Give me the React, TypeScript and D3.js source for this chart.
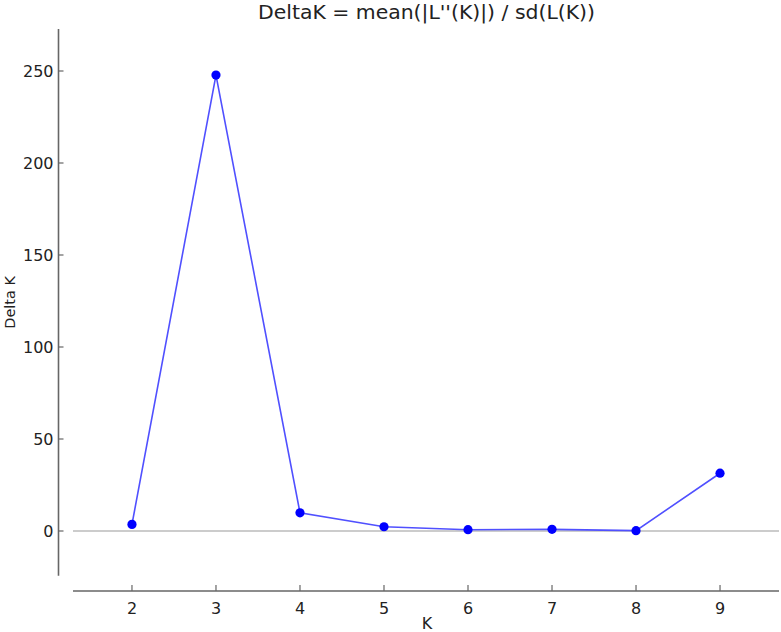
import React from "react";
import * as d3 from "d3";

const kValues = [2, 3, 4, 5, 6, 7, 8, 9];
const deltaK = [3.6, 247.8, 9.9, 2.3, 0.7, 0.9, 0.2, 31.4];
const yTicks = [0, 50, 100, 150, 200, 250];
const xTicks = [2, 3, 4, 5, 6, 7, 8, 9];
const title = "DeltaK = mean(|L''(K)|) / sd(L(K))";
const xLabel = "K";
const yLabel = "Delta K";

export default function App() {
  const W = 781, H = 632;
  const x = d3.scaleLinear().domain([1.298, 9.702]).range([73, 779]);
  const y = d3.scaleLinear().domain([0, 250]).range([531, 71]);
  const yAxisX = 58.5;
  const yTop = y(272.8), yBot = y(-24.3);
  const xAxisY = 591;
  const line = d3.line<number>().x((_, i) => x(kValues[i])).y((d) => y(d));
  const font = "DejaVu Sans, sans-serif";
  const axisColor = "#666";
  return (
    <svg width={W} height={H} style={{ position: "absolute", left: 0, top: 0, background: "#fff" }}>
      <text x={426.5} y={18.5} textAnchor="middle" fontFamily={font} fontSize={19} textLength={337} lengthAdjust="spacingAndGlyphs" fill="#222">{title}</text>
      {/* y axis */}
      <line x1={yAxisX} x2={yAxisX} y1={yTop} y2={yBot} stroke={axisColor} strokeWidth={1.6} />
      {yTicks.map((t) => (
        <g key={t}>
          <line x1={yAxisX} x2={yAxisX + 5} y1={y(t)} y2={y(t)} stroke={axisColor} strokeWidth={1.2} />
          <text x={yAxisX - 5} y={y(t)} dy="0.35em" textAnchor="end" fontFamily={font} fontSize={16} fill="#222">{t}</text>
        </g>
      ))}
      <text transform={`translate(15,${(yTop + yBot) / 2}) rotate(-90)`} textAnchor="middle" fontFamily={font} fontSize={14.5} fill="#222">{yLabel}</text>
      {/* zero line */}
      <line x1={x.range()[0]} x2={x.range()[1]} y1={y(0)} y2={y(0)} stroke="#bbb" strokeWidth={1.3} />
      {/* x axis */}
      <line x1={x.range()[0]} x2={x.range()[1]} y1={xAxisY} y2={xAxisY} stroke={axisColor} strokeWidth={1.6} />
      {xTicks.map((t) => (
        <g key={t}>
          <line x1={x(t)} x2={x(t)} y1={xAxisY} y2={xAxisY - 6} stroke={axisColor} strokeWidth={1.2} />
          <text x={x(t)} y={xAxisY + 17} dy="0.35em" textAnchor="middle" fontFamily={font} fontSize={16} fill="#222">{t}</text>
        </g>
      ))}
      <text x={427} y={629} textAnchor="middle" fontFamily={font} fontSize={16} fill="#222">{xLabel}</text>
      {/* data */}
      <path d={line(deltaK) || ""} fill="none" stroke="#5050ff" strokeWidth={1.6} />
      {deltaK.map((d, i) => (
        <circle key={i} cx={x(kValues[i])} cy={y(d)} r={4.6} fill="#0000ff" />
      ))}
    </svg>
  );
}
